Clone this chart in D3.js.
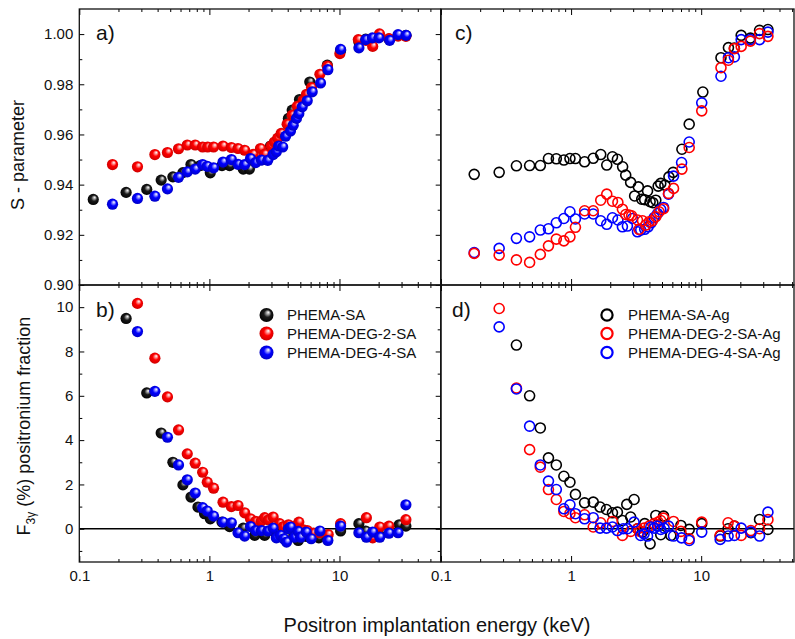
<!DOCTYPE html>
<html>
<head>
<meta charset="utf-8">
<script src="https://cdn.jsdelivr.net/npm/d3@7"></script>
<style>
  body { margin: 0; background: #fff; }
  svg { display: block; font-family: "Liberation Sans", Arial, sans-serif; }
</style>
</head>
<body>
<svg id="chart" width="795" height="639"></svg>
<script>
// ---------- series names ----------
const namesSA = ["PHEMA-SA", "PHEMA-DEG-2-SA", "PHEMA-DEG-4-SA"];
const namesAg = ["PHEMA-SA-Ag", "PHEMA-DEG-2-SA-Ag", "PHEMA-DEG-4-SA-Ag"];
const panelLabels = ["a)", "b)", "c)", "d)"];

// ---------- tick values ----------
const xMajorTicks = [0.1, 1, 10];
const xMinorTicks = [0.2, 0.3, 0.4, 0.5, 0.6, 0.7, 0.8, 0.9, 2, 3, 4, 5, 6, 7, 8, 9, 20, 30, 40, 50];
const sMajorTicks = [0.90, 0.92, 0.94, 0.96, 0.98, 1.00];
const sMinorTicks = [0.91, 0.93, 0.95, 0.97, 0.99];
const fMajorTicks = [0, 2, 4, 6, 8, 10];
const fMinorTicks = [-1, 1, 3, 5, 7, 9];

// ---------- (a) S-parameter, samples without Ag ----------
const aE_SA = [0.128, 0.229, 0.330, 0.426, 0.524, 0.626, 0.722, 0.85, 1.016, 1.25, 1.43, 1.82, 2.03, 2.56, 2.95, 3.27, 4.05, 4.33, 4.93, 5.91, 8.06, 10.2, 14.1, 15.9, 20.1, 24.0, 32.4];
const aS_SA = [0.9341, 0.9369, 0.9381, 0.9418, 0.9431, 0.9448, 0.9480, 0.9476, 0.9447, 0.9476, 0.9476, 0.9462, 0.9462, 0.9500, 0.9554, 0.9570, 0.9664, 0.9697, 0.9739, 0.9809, 0.9876, 0.9935, 0.9968, 0.9980, 0.9990, 0.9980, 0.9995];

const aE_DEG2 = [0.180, 0.28, 0.381, 0.476, 0.579, 0.676, 0.778, 0.887, 0.97, 1.077, 1.273, 1.475, 1.66, 1.867, 2.17, 2.47, 2.66, 2.98, 3.16, 3.35, 3.56, 3.96, 4.33, 4.73, 5.26, 5.58, 6.10, 7.07, 8.06, 10.07, 13.96, 16.0, 18.0, 20.3, 24.0, 28.2, 32.4];
const aS_DEG2 = [0.9480, 0.9471, 0.9520, 0.9528, 0.9543, 0.9558, 0.9558, 0.9550, 0.9550, 0.9550, 0.9554, 0.9548, 0.9544, 0.9537, 0.9521, 0.9544, 0.9521, 0.9554, 0.9570, 0.9585, 0.9604, 0.9641, 0.9677, 0.9712, 0.9736, 0.9760, 0.9787, 0.9840, 0.9872, 0.9922, 0.9978, 0.9975, 0.9951, 1.0001, 0.9982, 0.9992, 0.9991];

const aE_DEG4 = [0.180, 0.28, 0.381, 0.476, 0.579, 0.676, 0.778, 0.887, 0.963, 1.077, 1.273, 1.475, 1.66, 1.867, 2.07, 2.27, 2.51, 2.81, 3.09, 3.27, 3.41, 3.66, 3.85, 4.20, 4.41, 4.67, 4.87, 5.17, 5.65, 6.17, 7.15, 8.14, 10.2, 14.1, 15.9, 17.9, 20.1, 24.3, 28.2, 32.5];
const aS_DEG4 = [0.9322, 0.9345, 0.9354, 0.9383, 0.9429, 0.9451, 0.9462, 0.9480, 0.9473, 0.9467, 0.9490, 0.9500, 0.9481, 0.9480, 0.9504, 0.9488, 0.9498, 0.9497, 0.9520, 0.9531, 0.9554, 0.9550, 0.9593, 0.9614, 0.9637, 0.9664, 0.9683, 0.9710, 0.9734, 0.9770, 0.9805, 0.9858, 0.9939, 0.9945, 0.9978, 0.9985, 0.9985, 0.9975, 0.9998, 0.9995];

// ---------- (b) F3γ, samples without Ag ----------
const bE_SA = [0.229, 0.330, 0.426, 0.524, 0.626, 0.722, 0.817, 0.918, 1.016, 1.25, 1.43, 1.82, 2.23, 2.66, 3.22, 3.85, 4.82, 5.58, 6.94, 10.2, 14.1, 15.9, 20.3, 28.8, 32.4];
const bF_SA = [9.49, 6.13, 4.32, 3.00, 1.98, 1.43, 0.98, 0.68, 0.45, 0.30, 0.10, 0.03, -0.30, -0.30, -0.20, -0.30, -0.53, -0.35, -0.41, -0.10, 0.23, -0.10, -0.30, 0.18, 0.12];

const bE_DEG2 = [0.28, 0.381, 0.476, 0.579, 0.676, 0.778, 0.887, 0.963, 1.077, 1.273, 1.475, 1.66, 1.867, 2.07, 2.27, 2.51, 2.66, 2.84, 3.09, 3.47, 3.71, 4.05, 4.44, 4.87, 5.28, 5.65, 6.31, 7.07, 8.19, 10.2, 16.1, 18.0, 20.4, 24.0, 32.4];
const bF_DEG2 = [10.17, 7.70, 5.95, 4.46, 3.38, 2.96, 2.55, 2.10, 1.83, 1.20, 1.00, 1.05, 0.72, 0.45, 0.33, 0.35, 0.50, 0.40, 0.53, 0.23, 0.10, 0.18, 0.10, 0.30, -0.05, -0.08, -0.20, -0.18, -0.26, 0.23, 0.50, -0.41, 0.08, 0.12, 0.41];

const bE_DEG4 = [0.28, 0.381, 0.476, 0.579, 0.676, 0.778, 0.887, 0.963, 1.077, 1.273, 1.475, 1.66, 1.867, 2.07, 2.27, 2.51, 2.81, 3.09, 3.27, 3.52, 3.73, 3.92, 4.05, 4.20, 4.51, 4.82, 5.02, 5.55, 6.06, 7.07, 8.14, 10.2, 14.1, 16.1, 18.0, 20.4, 24.0, 28.2, 32.4];
const bF_DEG4 = [8.90, 6.20, 4.13, 2.88, 2.21, 1.61, 0.95, 0.80, 0.57, 0.30, 0.27, -0.18, -0.33, 0.10, -0.08, -0.08, -0.10, 0.03, -0.41, -0.30, -0.45, -0.60, 0.00, 0.08, -0.38, -0.12, -0.38, -0.15, -0.45, -0.10, -0.53, 0.12, -0.18, -0.38, -0.15, -0.38, -0.20, -0.18, 1.08];

// ---------- (c) S-parameter, samples with Ag ----------
const cE_SA = [0.18, 0.28, 0.38, 0.48, 0.58, 0.67, 0.77, 0.88, 0.98, 1.08, 1.27, 1.48, 1.69, 1.88, 2.08, 2.27, 2.49, 2.63, 2.87, 3.08, 3.29, 3.49, 3.68, 3.87, 4.05, 4.25, 4.48, 4.67, 4.89, 5.26, 5.65, 6.09, 7.11, 8.09, 10.3, 14.2, 16.2, 18.0, 20.3, 23.9, 28.1, 32.6];
const cS_SA = [0.9441, 0.9449, 0.9475, 0.9476, 0.9476, 0.9504, 0.9503, 0.9498, 0.9504, 0.9504, 0.9491, 0.9505, 0.9520, 0.9478, 0.9511, 0.9501, 0.9471, 0.9438, 0.9409, 0.9355, 0.9391, 0.9342, 0.9340, 0.9375, 0.9332, 0.9328, 0.9338, 0.9394, 0.9405, 0.9398, 0.9431, 0.9449, 0.9541, 0.9641, 0.9769, 0.9906, 0.9946, 0.9944, 0.9995, 0.9984, 1.0015, 1.0018];

const cE_DEG2 = [0.18, 0.28, 0.38, 0.48, 0.58, 0.67, 0.77, 0.88, 0.98, 1.08, 1.27, 1.48, 1.69, 1.88, 2.08, 2.29, 2.48, 2.63, 2.79, 2.92, 3.24, 3.33, 3.54, 3.75, 3.98, 4.22, 4.48, 4.75, 5.14, 5.61, 6.13, 7.11, 8.09, 10.1, 14.2, 16.2, 18.0, 20.3, 23.9, 28.1, 32.6];
const cS_DEG2 = [0.9126, 0.9119, 0.9100, 0.9090, 0.9122, 0.9156, 0.9183, 0.9176, 0.9192, 0.9230, 0.9296, 0.9296, 0.9338, 0.9362, 0.9334, 0.9329, 0.9302, 0.9281, 0.9279, 0.9276, 0.9259, 0.9222, 0.9256, 0.9239, 0.9252, 0.9256, 0.9272, 0.9292, 0.9304, 0.9365, 0.9385, 0.9462, 0.9548, 0.9694, 0.9866, 0.9896, 0.9942, 0.9951, 0.9972, 1.0002, 0.9991];

const cE_DEG4 = [0.18, 0.28, 0.38, 0.48, 0.58, 0.67, 0.77, 0.88, 0.98, 1.08, 1.27, 1.48, 1.69, 1.88, 2.08, 2.29, 2.48, 2.71, 2.96, 3.24, 3.43, 3.68, 3.91, 4.12, 4.35, 4.62, 4.89, 5.14, 5.61, 6.13, 7.07, 8.09, 10.1, 14.2, 16.2, 18.0, 20.3, 23.9, 28.1, 32.6];
const cS_DEG4 = [0.9129, 0.9146, 0.9186, 0.9192, 0.9219, 0.9224, 0.9248, 0.9265, 0.9292, 0.9263, 0.9283, 0.9283, 0.9256, 0.9242, 0.9268, 0.9259, 0.9232, 0.9235, 0.9265, 0.9212, 0.9219, 0.9222, 0.9232, 0.9248, 0.9269, 0.9285, 0.9301, 0.9309, 0.9362, 0.9434, 0.9488, 0.9570, 0.9726, 0.9832, 0.9906, 0.9909, 0.9978, 0.9978, 0.9978, 1.0008];

// ---------- (d) F3γ, samples with Ag ----------
const dE_SA = [0.38, 0.48, 0.58, 0.67, 0.77, 0.88, 0.98, 1.08, 1.27, 1.48, 1.67, 1.87, 2.08, 2.27, 2.48, 2.68, 2.87, 3.05, 3.24, 3.54, 3.68, 4.05, 4.48, 4.89, 5.14, 5.85, 6.98, 8.09, 10.1, 14.0, 16.1, 18.0, 24.1, 28.1, 32.6];
const dF_SA = [8.29, 6.00, 4.55, 3.20, 2.88, 2.37, 2.10, 1.55, 1.17, 1.20, 0.98, 0.87, 0.72, 0.75, 0.37, 1.10, 0.53, 1.32, 0.00, -0.15, 0.23, -0.68, 0.60, -0.27, 0.57, -0.30, 0.15, -0.03, 0.23, -0.33, 0.00, 0.12, -0.18, 0.42, -0.03];

const dE_DEG2 = [0.28, 0.38, 0.48, 0.58, 0.67, 0.77, 0.88, 0.98, 1.08, 1.27, 1.48, 1.69, 2.08, 2.48, 2.87, 3.24, 3.39, 3.64, 3.98, 4.35, 4.67, 4.89, 5.14, 6.13, 6.98, 8.09, 10.1, 14.0, 16.1, 18.0, 20.3, 24.1, 28.1, 32.6];
const dF_DEG2 = [9.94, 6.35, 3.57, 2.78, 1.77, 1.32, 0.78, 0.68, 0.50, 0.63, 0.08, 0.27, 0.33, -0.30, -0.12, 0.00, -0.12, 0.03, 0.12, 0.23, 0.30, 0.37, 0.48, 0.33, -0.12, -0.45, 0.30, -0.30, 0.27, 0.12, -0.30, -0.08, 0.00, 0.41];

const dE_DEG4 = [0.28, 0.38, 0.48, 0.58, 0.67, 0.77, 0.88, 0.98, 1.08, 1.27, 1.48, 1.67, 1.87, 2.08, 2.27, 2.52, 2.71, 3.05, 3.43, 3.64, 3.87, 4.10, 4.35, 4.62, 4.89, 5.19, 5.61, 6.13, 7.07, 8.09, 10.1, 14.0, 16.1, 18.0, 20.3, 24.1, 28.1, 32.6];
const dF_DEG4 = [9.11, 6.31, 4.63, 2.88, 2.15, 1.77, 0.90, 1.08, 0.68, 0.45, 0.50, 0.03, 0.03, 0.08, -0.08, 0.00, 0.00, 0.30, -0.30, -0.23, -0.33, 0.08, 0.03, 0.12, -0.03, 0.03, 0.12, -0.33, -0.41, -0.53, -0.15, -0.48, -0.33, -0.30, 0.03, -0.15, -0.33, 0.75];

// ---------- layout ----------
const svg = d3.select("#chart");
const colors = ["#000000", "#ff0000", "#0000ff"];
const leftX = [79.3, 440.7], rightX = [441, 794];
const topY = [9, 285], botY = [285, 562];
const FONT_TICK = 15;

const xLeft = d3.scaleLog().domain([0.1, 60]).range(leftX);
// right-hand panels share the same px-per-decade, cut at the canvas edge
const decadePx = (leftX[1] - leftX[0]) / Math.log10(60 / 0.1);
const xRight = d3.scaleLog()
  .domain([0.1, 0.1 * Math.pow(10, (rightX[1] - rightX[0]) / decadePx)])
  .range(rightX);
const yS = d3.scaleLinear().domain([0.90, 1.01]).range([topY[1], topY[0]]);
const yF = d3.scaleLinear().domain([-1.5, 11]).range([botY[1], botY[0]]);

// ---------- sphere gradients ----------
const defs = svg.append("defs");
function ballGradient(id, light, mid, dark) {
  const g = defs.append("radialGradient").attr("id", id)
    .attr("cx", "50%").attr("cy", "50%").attr("r", "55%")
    .attr("fx", "64%").attr("fy", "30%");
  g.append("stop").attr("offset", "0%").attr("stop-color", "#ffffff");
  g.append("stop").attr("offset", "16%").attr("stop-color", light);
  g.append("stop").attr("offset", "48%").attr("stop-color", mid);
  g.append("stop").attr("offset", "100%").attr("stop-color", dark);
}
ballGradient("ball0", "#b8b8b8", "#1a1a1a", "#000000");
ballGradient("ball1", "#ffb0b0", "#ff0000", "#c80000");
ballGradient("ball2", "#b0b0ff", "#0000ff", "#0000c0");

// ---------- axes ----------
function styleAxis(g) {
  g.select(".domain").remove();
  g.selectAll("line").attr("stroke", "#000").attr("stroke-width", 1);
  g.selectAll("text").attr("fill", "#111").style("font-size", FONT_TICK + "px")
    .style("font-family", '"Liberation Sans", Arial, sans-serif');
}

function xAxes(x, yTopPx, yBotPx, withLabels) {
  // bottom edge, ticks pointing inward
  const bMaj = svg.append("g").attr("transform", `translate(0,${yBotPx})`)
    .call(d3.axisBottom(x).tickValues(xMajorTicks).tickSize(-6).tickSizeOuter(0).tickPadding(8)
      .tickFormat(withLabels ? d3.format("~g") : () => ""));
  styleAxis(bMaj);
  const bMin = svg.append("g").attr("transform", `translate(0,${yBotPx})`)
    .call(d3.axisBottom(x).tickValues(xMinorTicks).tickSize(-3).tickSizeOuter(0).tickFormat(() => ""));
  styleAxis(bMin);
  // top edge
  const tMaj = svg.append("g").attr("transform", `translate(0,${yTopPx})`)
    .call(d3.axisTop(x).tickValues(xMajorTicks).tickSize(-6).tickSizeOuter(0).tickFormat(() => ""));
  styleAxis(tMaj);
  const tMin = svg.append("g").attr("transform", `translate(0,${yTopPx})`)
    .call(d3.axisTop(x).tickValues(xMinorTicks).tickSize(-3).tickSizeOuter(0).tickFormat(() => ""));
  styleAxis(tMin);
}

function yAxes(y, major, minor, fmt) {
  const lMaj = svg.append("g").attr("transform", `translate(${leftX[0]},0)`)
    .call(d3.axisLeft(y).tickValues(major).tickSize(-5).tickSizeOuter(0).tickPadding(6).tickFormat(fmt));
  styleAxis(lMaj);
  const lMin = svg.append("g").attr("transform", `translate(${leftX[0]},0)`)
    .call(d3.axisLeft(y).tickValues(minor).tickSize(-3).tickSizeOuter(0).tickFormat(() => ""));
  styleAxis(lMin);
  const rMaj = svg.append("g").attr("transform", `translate(${leftX[1]},0)`)
    .call(d3.axisRight(y).tickValues(major).tickSize(-5).tickSizeOuter(0).tickFormat(() => ""));
  styleAxis(rMaj);
  const rMin = svg.append("g").attr("transform", `translate(${leftX[1]},0)`)
    .call(d3.axisRight(y).tickValues(minor).tickSize(-3).tickSizeOuter(0).tickFormat(() => ""));
  styleAxis(rMin);
}

xAxes(xLeft, topY[0], topY[1], false);
xAxes(xLeft, botY[0], botY[1], true);
xAxes(xRight, topY[0], topY[1], false);
xAxes(xRight, botY[0], botY[1], true);
yAxes(yS, sMajorTicks, sMinorTicks, d3.format(".2f"));
yAxes(yF, fMajorTicks, fMinorTicks, d3.format("d"));

// zero reference lines in the F3γ panels
[[xLeft, leftX], [xRight, rightX]].forEach(([x, r]) => {
  svg.append("line")
    .attr("x1", r[0]).attr("x2", r[1])
    .attr("y1", yF(0)).attr("y2", yF(0))
    .attr("stroke", "#000").attr("stroke-width", 1.6);
});

// ---------- markers ----------
function balls(x, y, es, vs, k) {
  svg.append("g").selectAll("circle")
    .data(d3.zip(es, vs)).join("circle")
    .attr("cx", d => x(d[0])).attr("cy", d => y(d[1]))
    .attr("r", 5.6).attr("fill", `url(#ball${k})`);
}
function rings(x, y, es, vs, k) {
  svg.append("g").selectAll("circle")
    .data(d3.zip(es, vs)).join("circle")
    .attr("cx", d => x(d[0])).attr("cy", d => y(d[1]))
    .attr("r", 5).attr("fill", "none")
    .attr("stroke", colors[k]).attr("stroke-width", 1.6);
}

balls(xLeft, yS, aE_SA, aS_SA, 0);
balls(xLeft, yS, aE_DEG2, aS_DEG2, 1);
balls(xLeft, yS, aE_DEG4, aS_DEG4, 2);

balls(xLeft, yF, bE_SA, bF_SA, 0);
balls(xLeft, yF, bE_DEG2, bF_DEG2, 1);
balls(xLeft, yF, bE_DEG4, bF_DEG4, 2);

rings(xRight, yS, cE_SA, cS_SA, 0);
rings(xRight, yS, cE_DEG4, cS_DEG4, 2);
rings(xRight, yS, cE_DEG2, cS_DEG2, 1);

rings(xRight, yF, dE_SA, dF_SA, 0);
rings(xRight, yF, dE_DEG2, dF_DEG2, 1);
rings(xRight, yF, dE_DEG4, dF_DEG4, 2);

// ---------- panel frames ----------
[[leftX, topY], [leftX, botY], [rightX, topY], [rightX, botY]].forEach(([xr, yr]) => {
  svg.append("rect")
    .attr("x", xr[0]).attr("y", yr[0])
    .attr("width", xr[1] - xr[0]).attr("height", yr[1] - yr[0])
    .attr("fill", "none").attr("stroke", "#111").attr("stroke-width", 1.3);
});

// ---------- panel labels ----------
const labelPos = [[96, 40], [96, 317], [455, 40], [452, 317]];
panelLabels.forEach((t, i) => {
  svg.append("text").attr("x", labelPos[i][0]).attr("y", labelPos[i][1])
    .attr("fill", "#111").style("font-size", "21px").text(t);
});

// ---------- legends ----------
const legRows = [315, 333.5, 352.5];
namesSA.forEach((n, i) => {
  svg.append("circle").attr("cx", 266.5).attr("cy", legRows[i]).attr("r", 7)
    .attr("fill", `url(#ball${i})`);
  svg.append("text").attr("x", 287).attr("y", legRows[i]).attr("dy", "0.36em")
    .attr("fill", "#111").style("font-size", "15px").text(n);
});
namesAg.forEach((n, i) => {
  svg.append("circle").attr("cx", 607).attr("cy", legRows[i]).attr("r", 5.6)
    .attr("fill", "none").attr("stroke", colors[i]).attr("stroke-width", 2.2);
  svg.append("text").attr("x", 628).attr("y", legRows[i]).attr("dy", "0.36em")
    .attr("fill", "#111").style("font-size", "15px").text(n);
});

// ---------- axis titles ----------
svg.append("text")
  .attr("transform", `translate(24,${(topY[0] + topY[1]) / 2 + 8}) rotate(-90)`)
  .attr("text-anchor", "middle").attr("fill", "#111").style("font-size", "18px")
  .text("S - parameter");

const fTitle = svg.append("text")
  .attr("transform", `translate(30,426) rotate(-90)`)
  .attr("text-anchor", "middle").attr("fill", "#111").style("font-size", "18px");
fTitle.append("tspan").text("F");
fTitle.append("tspan").attr("dy", 5).style("font-size", "12px").text("3γ");
fTitle.append("tspan").attr("dy", -5).text(" (%) positronium fraction");

svg.append("text")
  .attr("x", 437).attr("y", 632)
  .attr("text-anchor", "middle").attr("fill", "#111").style("font-size", "20px")
  .text("Positron implantation energy (keV)");
</script>
</body>
</html>
